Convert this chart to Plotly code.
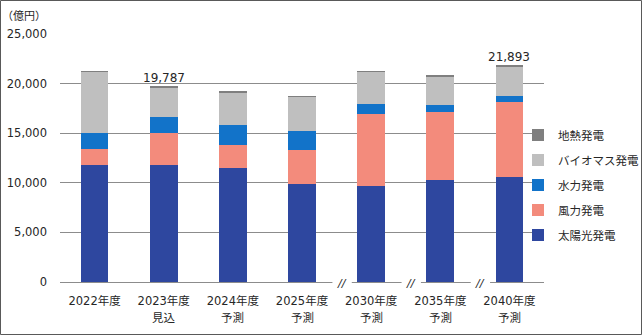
import plotly.graph_objects as go

categories = ["2022年度", "2023年度", "2024年度", "2025年度", "2030年度", "2035年度", "2040年度"]
sublabels = ["", "見込", "予測", "予測", "予測", "予測", "予測"]
solar = [11750, 11750, 11490, 9880, 9710, 10310, 10610]
wind = [1690, 3270, 2350, 3460, 7260, 6790, 7530]
hydro = [1580, 1610, 1950, 1840, 930, 740, 640]
biomass = [6180, 2960, 3320, 3530, 3300, 2860, 2950]
geothermal = [40, 197, 170, 40, 70, 100, 163]
totals_shown = {"2023年度": "19,787", "2040年度": "21,893"}

series = [
    ("太陽光発電", solar, "#2E479F"),
    ("風力発電", wind, "#F38B7C"),
    ("水力発電", hydro, "#1273C9"),
    ("バイオマス発電", biomass, "#BFBFBF"),
    ("地熱発電", geothermal, "#7F7F7F"),
]

FONT = "DejaVu Sans, Noto Sans CJK JP, sans-serif"
TXT = "#262626"

fig = go.Figure()
for k, (name, vals, color) in enumerate(series):
    fig.add_trace(go.Bar(x=categories, y=vals, name=name, marker=dict(color=color, line=dict(width=0)),
                         legendgroup=name, legendrank=len(series) - k))

W, H = 642, 335
ml, mr, mt, mb = 60, 98, 34, 53
pw, ph = W - ml - mr, H - mt - mb

fig.update_layout(
    width=W, height=H,
    margin=dict(l=ml, r=mr, t=mt, b=mb, autoexpand=False),
    barmode="stack", bargap=0.6,
    paper_bgcolor="white", plot_bgcolor="white",
    font=dict(family=FONT, size=11.5, color=TXT),
    showlegend=True,
    legend=dict(traceorder="grouped", tracegroupgap=6, x=(518 - ml) / pw, xanchor="left",
                y=1 - (185 - mt) / ph, yanchor="middle",
                font=dict(size=11.5, color=TXT), bgcolor="rgba(0,0,0,0)", itemwidth=30),
    xaxis=dict(showgrid=False, showline=False, ticks="", tickfont=dict(size=11.5, color=TXT),
               ticklabelstandoff=10),
    yaxis=dict(range=[0, 25000], tickvals=[0, 5000, 10000, 15000, 20000, 25000],
               tickformat=",", showgrid=True, gridcolor="#8C8C8C", gridwidth=1,
               zeroline=True, zerolinecolor="#8C8C8C", zerolinewidth=1, showline=False,
               ticks="", ticklabelstandoff=12, tickfont=dict(size=11.5, color=TXT)),
)

# unit label
fig.add_annotation(text="（億円）", xref="paper", yref="paper", x=-12 / pw, y=1 + 17 / ph,
                   xanchor="right", yanchor="middle", showarrow=False, font=dict(size=11, color=TXT))

# total labels
for i, c in enumerate(categories):
    if c in totals_shown:
        tot = solar[i] + wind[i] + hydro[i] + biomass[i] + geothermal[i]
        fig.add_annotation(text=totals_shown[c], x=c, y=tot, yanchor="bottom", showarrow=False, yshift=-1,
                           font=dict(size=12, color=TXT))

# second line of category labels
for i, c in enumerate(categories):
    if sublabels[i]:
        fig.add_annotation(text=sublabels[i], x=c, xref="x", yref="paper", y=-36 / ph, yanchor="middle",
                           showarrow=False, font=dict(size=11.5, color=TXT))

# axis breaks
for b in [3.58, 4.58, 5.58]:
    fig.add_shape(type="rect", xref="x", yref="paper", x0=b - 0.14, x1=b + 0.14, y0=-3 / ph, y1=3 / ph,
                  fillcolor="white", line=dict(width=0), layer="above")
    fig.add_annotation(text="<i>//</i>", x=b, xref="x", yref="paper", y=-1 / ph, yanchor="middle",
                       showarrow=False, font=dict(size=11, color=TXT))

# outer border
fig.add_shape(type="rect", xref="paper", yref="paper",
              x0=-(ml - 0.5) / pw, x1=1 + (mr - 0.5) / pw, y0=-(mb - 0.5) / ph, y1=1 + (mt - 0.5) / ph,
              line=dict(color="#595959", width=1), fillcolor="rgba(0,0,0,0)", layer="above")

fig.write_html("out.html")
